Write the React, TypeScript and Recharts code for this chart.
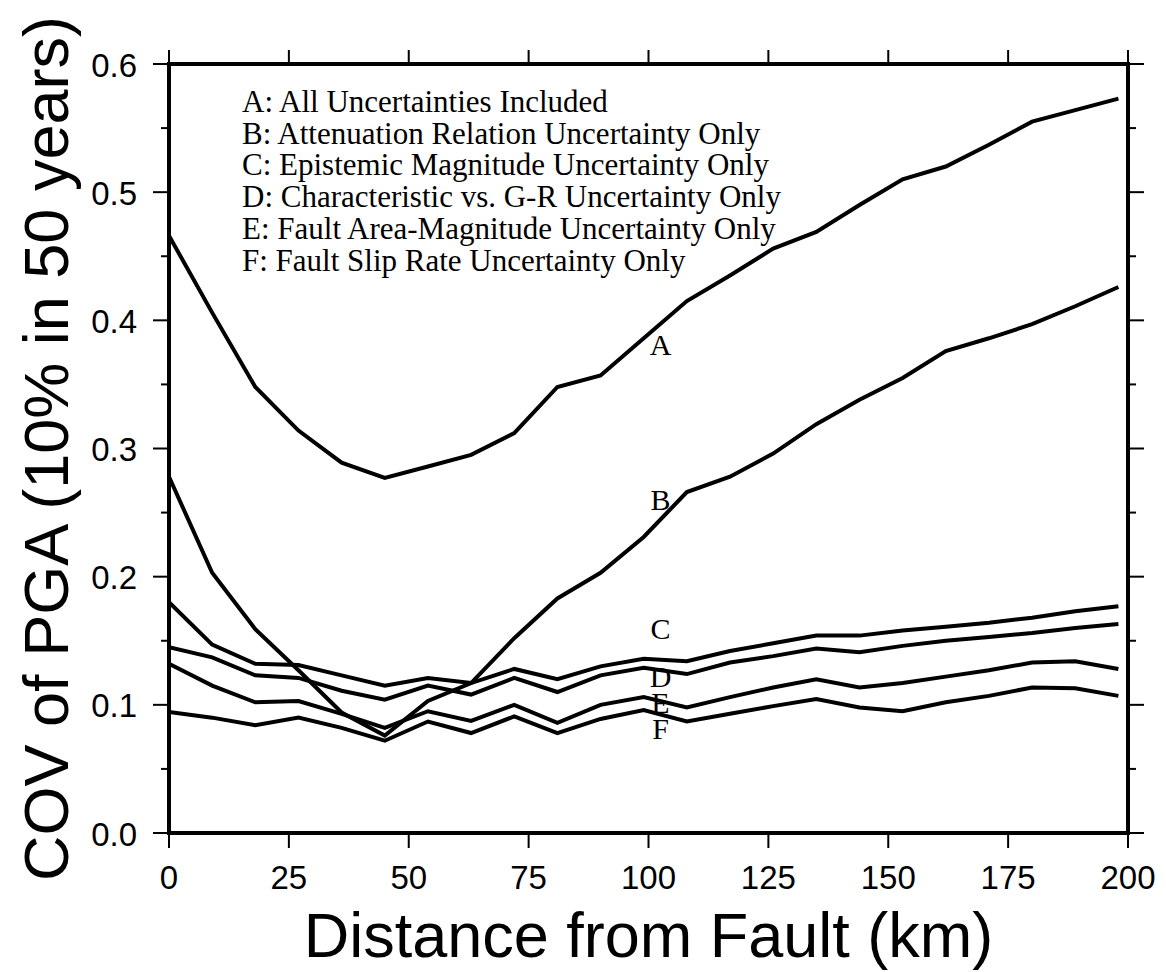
import { LineChart, Line, XAxis, YAxis, Legend, ReferenceDot } from 'recharts';

const SANS = '"Liberation Sans", Arial, Helvetica, sans-serif';
const SERIF = '"Liberation Serif", "Times New Roman", Times, serif';

// distance from fault (km)
const distance = [0, 9, 18, 27, 36, 45, 54, 63, 72, 81, 90, 99, 108, 117, 126, 135, 144, 153, 162, 171, 180, 189, 198];

// COV of PGA, one array per curve
const covA = [0.466, 0.406, 0.348, 0.314, 0.289, 0.277, 0.286, 0.295, 0.312, 0.348, 0.357, 0.386, 0.415, 0.435, 0.456, 0.469, 0.49, 0.51, 0.52, 0.537, 0.555, 0.564, 0.573];
const covB = [0.278, 0.203, 0.159, 0.127, 0.094, 0.076, 0.103, 0.117, 0.152, 0.183, 0.203, 0.231, 0.266, 0.278, 0.296, 0.319, 0.338, 0.355, 0.376, 0.386, 0.397, 0.411, 0.426];
const covC = [0.18, 0.147, 0.132, 0.131, 0.123, 0.115, 0.121, 0.117, 0.128, 0.12, 0.13, 0.136, 0.134, 0.142, 0.148, 0.154, 0.154, 0.158, 0.161, 0.164, 0.168, 0.173, 0.177];
const covD = [0.145, 0.137, 0.123, 0.121, 0.111, 0.104, 0.115, 0.108, 0.121, 0.11, 0.123, 0.129, 0.124, 0.133, 0.138, 0.144, 0.141, 0.146, 0.15, 0.153, 0.156, 0.16, 0.163];
const covE = [0.132, 0.115, 0.102, 0.103, 0.093, 0.082, 0.095, 0.0875, 0.1, 0.086, 0.1, 0.106, 0.098, 0.106, 0.1135, 0.12, 0.1135, 0.117, 0.122, 0.127, 0.133, 0.134, 0.128];
const covF = [0.0945, 0.09, 0.084, 0.09, 0.082, 0.072, 0.087, 0.078, 0.091, 0.078, 0.089, 0.096, 0.087, 0.093, 0.099, 0.1045, 0.098, 0.095, 0.102, 0.107, 0.1135, 0.113, 0.107];

const seriesKeys = ['A', 'B', 'C', 'D', 'E', 'F'];
const seriesNames = [
  'A: All Uncertainties Included',
  'B: Attenuation Relation Uncertainty Only',
  'C: Epistemic Magnitude Uncertainty Only',
  'D: Characteristic vs. G-R Uncertainty Only',
  'E: Fault Area-Magnitude Uncertainty Only',
  'F: Fault Slip Rate Uncertainty Only',
];

// curve tags drawn next to the lines
const tagDistance = 102.5;
const tagValues = [0.381, 0.2605, 0.16, 0.122, 0.1016, 0.0813];

const xTicks = [0, 25, 50, 75, 100, 125, 150, 175, 200];
const yTicks = [0, 0.05, 0.1, 0.15, 0.2, 0.25, 0.3, 0.35, 0.4, 0.45, 0.5, 0.55, 0.6];

const data = distance.map((d, i) => ({
  d,
  A: covA[i],
  B: covB[i],
  C: covC[i],
  D: covD[i],
  E: covE[i],
  F: covF[i],
}));

const isMajor = (v: number) => Math.round(v * 100) % 10 === 0;

const axisLine = { stroke: '#000', strokeWidth: 4, strokeLinecap: 'square' as const };

const LeftTick = ({ x, y, payload }: any) => {
  const major = isMajor(payload.value);
  return (
    <g>
      <line x1={x} y1={y} x2={x - (major ? 16 : 8)} y2={y} stroke="#000" strokeWidth={2} />
      {major && (
        <text x={x - 32} y={y} dy="0.38em" textAnchor="end" fontSize={33} fontFamily={SANS} fill="#000">
          {payload.value.toFixed(1)}
        </text>
      )}
    </g>
  );
};

const RightTick = ({ x, y, payload }: any) => (
  <line x1={x} y1={y} x2={x + (isMajor(payload.value) ? 16 : 8)} y2={y} stroke="#000" strokeWidth={2} />
);

const BottomTick = ({ x, y, payload }: any) => (
  <g>
    <line x1={x} y1={y} x2={x} y2={y + 15} stroke="#000" strokeWidth={2} />
    <text x={x} y={y + 56} textAnchor="middle" fontSize={33} fontFamily={SANS} fill="#000">
      {payload.value}
    </text>
  </g>
);

const TopTick = ({ x, y }: any) => <line x1={x} y1={y} x2={x} y2={y - 14} stroke="#000" strokeWidth={2} />;

const renderLegend = (props: any) => (
  <div style={{ fontFamily: SERIF, fontSize: 31, lineHeight: '31.7px', color: '#000', whiteSpace: 'nowrap' }}>
    {(props.payload || []).map((e: any) => (
      <div key={e.value}>{e.value}</div>
    ))}
  </div>
);

const xTitle = (p: any) => {
  const vb = p.viewBox;
  return (
    <text x={vb.x + vb.width / 2} y={vb.y + 124} textAnchor="middle" fontSize={63} fontFamily={SANS} fill="#000">
      Distance from Fault (km)
    </text>
  );
};

const yTitle = (p: any) => {
  const vb = p.viewBox;
  const cx = vb.x - 41;
  const cy = vb.y + vb.height / 2;
  return (
    <text x={cx} y={cy} textAnchor="middle" fontSize={63} fontFamily={SANS} fill="#000" transform={`rotate(-90, ${cx}, ${cy})`}>
      COV of PGA (10% in 50 years)
    </text>
  );
};

export default function App() {
  return (
    <div style={{ width: 1150, height: 964, background: '#fff' }}>
      <LineChart width={1150} height={964} data={data} margin={{ top: 36, right: 10, bottom: 79, left: 101 }}>
        <XAxis
          dataKey="d"
          type="number"
          domain={[0, 200]}
          allowDataOverflow
          ticks={xTicks}
          interval={0}
          height={60}
          tickSize={0}
          tickMargin={0}
          tickLine={false}
          axisLine={axisLine}
          tick={BottomTick}
          label={xTitle}
        />
        <XAxis
          xAxisId="top"
          orientation="top"
          dataKey="d"
          type="number"
          domain={[0, 200]}
          allowDataOverflow
          ticks={xTicks}
          interval={0}
          height={20}
          tickSize={0}
          tickMargin={0}
          tickLine={false}
          axisLine={axisLine}
          tick={TopTick}
        />
        <YAxis
          type="number"
          domain={[0, 0.6]}
          allowDataOverflow
          ticks={yTicks}
          interval={0}
          width={60}
          tickSize={0}
          tickMargin={0}
          tickLine={false}
          axisLine={axisLine}
          tick={LeftTick}
          label={yTitle}
        />
        <YAxis
          yAxisId="right"
          orientation="right"
          type="number"
          domain={[0, 0.6]}
          allowDataOverflow
          ticks={yTicks}
          interval={0}
          width={20}
          tickSize={0}
          tickMargin={0}
          tickLine={false}
          axisLine={axisLine}
          tick={RightTick}
        />
        <Legend
          layout="vertical"
          align="center"
          verticalAlign="middle"
          content={renderLegend}
          wrapperStyle={{ top: 78, left: 234, width: 'auto', height: 'auto' }}
        />
        {seriesKeys.map((k, i) => (
          <Line
            key={k}
            dataKey={k}
            name={seriesNames[i]}
            type="linear"
            stroke="#000"
            strokeWidth={4}
            dot={false}
            activeDot={false}
            isAnimationActive={false}
          />
        ))}
        {seriesKeys.map((k, i) => (
          <ReferenceDot
            key={`tag-${k}`}
            x={tagDistance}
            y={tagValues[i]}
            r={1}
            fill="none"
            stroke="none"
            ifOverflow="visible"
            label={{ value: k, position: 'center', fontSize: 30, fontFamily: SERIF, fill: '#000' }}
          />
        ))}
      </LineChart>
    </div>
  );
}
